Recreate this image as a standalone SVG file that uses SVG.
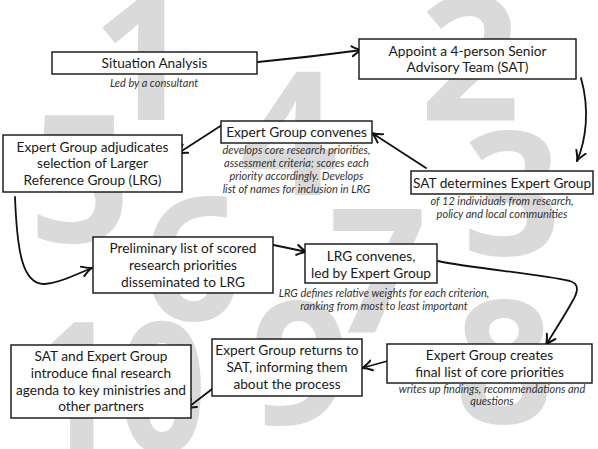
<svg xmlns="http://www.w3.org/2000/svg" width="598" height="449" viewBox="0 0 598 449">
<defs>
<style>
.dig{font-family:"Open Sans","DejaVu Sans",sans-serif;font-weight:700;fill:#dadada;text-anchor:middle}
.box{fill:#fff;stroke:#111;stroke-width:1.4}
.t{font-family:Lato,"Open Sans",sans-serif;font-size:13.7px;fill:#1a1a1a;text-anchor:middle}
.s{font-family:Lato,"Open Sans",sans-serif;font-size:11px;font-style:italic;fill:#333;text-anchor:middle}
.c{fill:none;stroke:#111;stroke-width:1.8;stroke-linecap:round}
</style>
<marker id="ah" markerUnits="userSpaceOnUse" viewBox="-11 -7 13 14" refX="0" refY="0" markerWidth="13" markerHeight="14" orient="auto">
<path d="M-10,-5 Q-4,-1 0,0 Q-4,1 -10,5" fill="none" stroke="#111" stroke-width="2" stroke-linecap="round" stroke-linejoin="round"/>
</marker>
</defs>
<rect width="598" height="449" fill="#fff"/>
<g id="background-numbers">
<text class="dig" x="142" y="120" font-size="175">1</text>
<text class="dig" x="470" y="120" font-size="175">2</text>
<text class="dig" x="289" y="195" font-size="172">4</text>
<text class="dig" x="512" y="255" font-size="172">3</text>
<text class="dig" x="80" y="242" font-size="178">5</text>
<text class="dig" x="192" y="320" font-size="172">6</text>
<text class="dig" x="378" y="332" font-size="172">7</text>
<text class="dig" x="504" y="423" font-size="172">8</text>
<text class="dig" x="300" y="425" font-size="172">9</text>
<text class="dig" transform="translate(118,452) scale(0.85,1)" font-size="182">10</text>
</g>
<g id="connectors">
<path class="c" d="M258,62 Q310,57 362,50" marker-end="url(#ah)"/>
<path class="c" d="M581,78 C590,110 586,140 577,161" marker-end="url(#ah)"/>
<path class="c" d="M426,168 L372,133" marker-end="url(#ah)"/>
<path class="c" d="M222,125 L177,154" marker-end="url(#ah)"/>
<path class="c" d="M15,197 C17,250 22,285 45,284 C62,283 78,273 92,268" marker-end="url(#ah)"/>
<path class="c" d="M264,243 L307,252" marker-end="url(#ah)"/>
<path class="c" d="M438,261 C470,268 540,274 570,281 C580,284 578,292 572,302 C565,315 555,330 546,345" marker-end="url(#ah)"/>
<path class="c" d="M395,359 L362,368" marker-end="url(#ah)"/>
<path class="c" d="M220,383 L186,409" marker-end="url(#ah)"/>
</g>
<g id="situation-analysis">
<rect class="box" x="52" y="52" width="205" height="22"/>
<text class="t" x="154.5" y="68">Situation Analysis</text>
<text class="s" x="154" y="87">Led by a consultant</text>
</g>
<g id="appoint-sat">
<rect class="box" x="359" y="39" width="217" height="40"/>
<text class="t" x="467.5" y="56">Appoint a 4-person Senior</text>
<text class="t" x="467.5" y="72">Advisory Team (SAT)</text>
</g>
<g id="sat-determines">
<rect class="box" x="411" y="171" width="182" height="23"/>
<text class="t" x="502" y="187.5">SAT determines Expert Group</text>
<text class="s" x="502" y="205">of 12 individuals from research,</text>
<text class="s" x="502" y="218">policy and local communities</text>
</g>
<g id="expert-convenes">
<rect class="box" x="221" y="121" width="151" height="22"/>
<text class="t" x="296.5" y="136.7">Expert Group convenes</text>
<text class="s" x="296.5" y="154">develops core research priorities,</text>
<text class="s" x="296.5" y="167">assessment criteria; scores each</text>
<text class="s" x="296.5" y="180">priority accordingly. Develops</text>
<text class="s" x="296.5" y="192.5">list of names for inclusion in LRG</text>
</g>
<g id="expert-adjudicates">
<rect class="box" x="3" y="135" width="179" height="57"/>
<text class="t" x="92.5" y="151.5">Expert Group adjudicates</text>
<text class="t" x="92.5" y="168">selection of Larger</text>
<text class="t" x="92.5" y="185">Reference Group (LRG)</text>
</g>
<g id="preliminary-list">
<rect class="box" x="93" y="237" width="180" height="56"/>
<text class="t" x="183" y="252.5">Preliminary list of scored</text>
<text class="t" x="183" y="269.5">research priorities</text>
<text class="t" x="183" y="287">disseminated to LRG</text>
</g>
<g id="lrg-convenes">
<rect class="box" x="305" y="244" width="132" height="39"/>
<text class="t" x="371" y="261">LRG convenes,</text>
<text class="t" x="371" y="277.7">led by Expert Group</text>
<text class="s" x="384" y="297">LRG defines relative weights for each criterion,</text>
<text class="s" x="384" y="310">ranking from most to least important</text>
</g>
<g id="expert-creates">
<rect class="box" x="387" y="344" width="205" height="39"/>
<text class="t" x="489.5" y="360">Expert Group creates</text>
<text class="t" x="489.5" y="377.3">final list of core priorities</text>
<text class="s" x="492" y="393">writes up findings, recommendations and</text>
<text class="s" x="492" y="405">questions</text>
</g>
<g id="expert-returns">
<rect class="box" x="212" y="339" width="150" height="57"/>
<text class="t" x="287" y="355">Expert Group returns to</text>
<text class="t" x="287" y="372">SAT, informing them</text>
<text class="t" x="287" y="389">about the process</text>
</g>
<g id="final-agenda">
<rect class="box" x="11" y="345" width="180" height="73"/>
<text class="t" x="101" y="361.3">SAT and Expert Group</text>
<text class="t" x="101" y="378">introduce final research</text>
<text class="t" x="101" y="394.7">agenda to key ministries and</text>
<text class="t" x="101" y="411">other partners</text>
</g>
</svg>
